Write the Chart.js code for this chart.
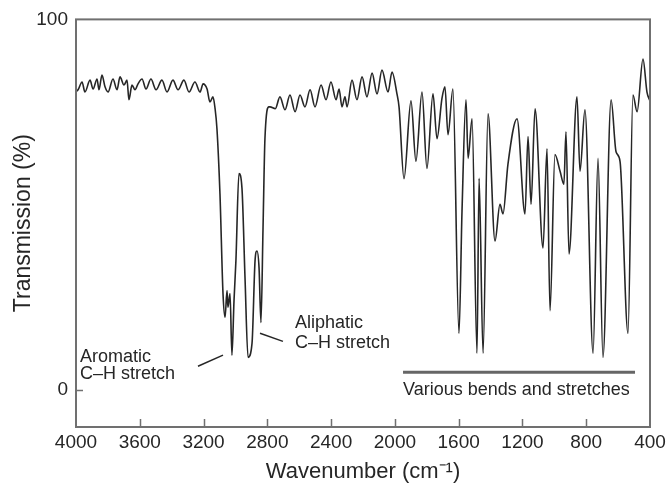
<!DOCTYPE html>
<html>
<head>
  <script src="https://cdn.jsdelivr.net/npm/chart.js"></script>
  <style>
    html, body { margin: 0; padding: 0; background: #fff; }
    canvas { display: block; }
  </style>
</head>
<body>
  <canvas id="irChart" width="671" height="493"></canvas>
  <script>
// spectrum (cm-1, % transmission)
const wavenumber = [
  4000, 3987, 3962, 3944, 3912, 3893, 3868, 3856, 3837, 3818, 3799, 3768, 3743, 3724, 3699, 3680,
  3668, 3649, 3630, 3611, 3586, 3561, 3530, 3498, 3461, 3429, 3392, 3360, 3323, 3291, 3254, 3222,
  3203, 3178, 3160, 3141, 3128, 3116, 3097, 3078, 3065, 3053, 3047, 3034, 3022, 3009, 2997, 2978,
  2959, 2940, 2921, 2896, 2877, 2865, 2852, 2840, 2827, 2815, 2790, 2783, 2750, 2721, 2689, 2658,
  2626, 2595, 2564, 2532, 2501, 2463, 2432, 2401, 2369, 2350, 2332, 2313, 2300, 2269, 2238, 2206,
  2175, 2143, 2112, 2081, 2043, 2018, 1987, 1974, 1943, 1899, 1868, 1830, 1799, 1761, 1736, 1705,
  1686, 1667, 1636, 1598, 1579, 1554, 1541, 1516, 1485, 1472, 1447, 1416, 1372, 1341, 1322, 1291,
  1234, 1184, 1165, 1146, 1121, 1071, 1046, 1027, 996, 964, 940, 927, 908, 858, 839, 808,
  757, 726, 695, 644, 613, 588, 538, 507, 481, 444, 419, 400
];
const transmission = [
  80.5, 81, 83.1, 80.4, 83.6, 81.2, 83.9, 81, 85, 81.8, 80.4, 83.9, 81, 84.5, 82.3, 83.6,
  78.3, 82.3, 81, 82.6, 83.9, 81.2, 83.9, 81, 83.6, 80.4, 83.6, 81, 83.6, 80.4, 83.1, 80.4,
  82.6, 81.2, 77.7, 79.1, 76, 70.5, 52.8, 26, 19.6, 26.8, 22.3, 26, 9.4, 24.1, 34.9, 58.4,
  54.4, 30.3, 8.8, 12.6, 34.9, 37.5, 33, 18.2, 43.7, 67.8, 76.4, 76.4, 75.9, 79.1, 75.6, 79.6,
  75.1, 79.6, 76.4, 81, 76.4, 82.3, 78.3, 83.1, 78.3, 81.2, 76.4, 79.1, 76.4, 83.6, 78.3, 84.5,
  79.1, 85.5, 79.9, 86.3, 80.4, 85.8, 79.9, 76.4, 57, 78, 61.7, 80.4, 59.8, 79.9, 67.8, 78.6,
  81.8, 68.9, 81.2, 15.3, 48.3, 78.3, 62.5, 73.2, 9.9, 57.1, 9.9, 74.5, 40.2, 50.1, 47.5, 60.9,
  73.2, 47.5, 68.4, 50.1, 75.9, 38.3, 65.1, 21.4, 63.5, 59, 55.5, 69.7, 36.7, 79.1, 59, 75.6,
  9.9, 62.5, 8.8, 78.3, 64.3, 61.7, 15.3, 79.6, 75.1, 89.3, 80.4, 78
];
const xTicks = [4000, 3600, 3200, 2800, 2400, 2000, 1600, 1200, 800, 400];
const yTicks = [0, 100];

const aromaticText = ['Aromatic', 'C\u2013H stretch'];
const aliphaticText = ['Aliphatic', 'C\u2013H stretch'];
const bandsText = 'Various bends and stretches';

const ink = '#262626';
const frameColor = '#707070';
const font = '"Liberation Sans", Arial, Helvetica, sans-serif';

// frame and inward tick marks
const framePlugin = {
  id: 'frame',
  afterDatasetsDraw(chart) {
    const {ctx, chartArea: a, scales: {x, y}} = chart;
    ctx.save();
    ctx.strokeStyle = frameColor;
    ctx.lineWidth = 2;
    ctx.strokeRect(a.left, a.top, a.right - a.left, a.bottom - a.top);
    ctx.lineWidth = 1.5;
    ctx.beginPath();
    xTicks.slice(1, -1).forEach(v => {
      const px = Math.round(x.getPixelForValue(v)) + 0.5;
      ctx.moveTo(px, a.bottom);
      ctx.lineTo(px, a.bottom - 8);
    });
    const y0 = Math.round(y.getPixelForValue(0)) + 0.5;
    ctx.moveTo(a.left, y0);
    ctx.lineTo(a.left + 7, y0);
    ctx.stroke();
    ctx.restore();
  }
};

// labels on the spectrum
const notesPlugin = {
  id: 'notes',
  afterDraw(chart) {
    const {ctx, scales: {x, y}} = chart;
    const line = (w1, t1, w2, t2, width) => {
      ctx.lineWidth = width;
      ctx.beginPath();
      ctx.moveTo(x.getPixelForValue(w1), y.getPixelForValue(t1));
      ctx.lineTo(x.getPixelForValue(w2), y.getPixelForValue(t2));
      ctx.stroke();
    };
    ctx.save();
    ctx.fillStyle = ink;
    ctx.strokeStyle = ink;
    ctx.font = '18px ' + font;
    ctx.textBaseline = 'middle';
    ctx.textAlign = 'left';

    ctx.fillText(aromaticText[0], x.getPixelForValue(3975), y.getPixelForValue(8.8));
    ctx.fillText(aromaticText[1], x.getPixelForValue(3975), y.getPixelForValue(4.3));
    line(3235, 6.4, 3078, 9.4, 1.5);

    ctx.fillText(aliphaticText[0], x.getPixelForValue(2626), y.getPixelForValue(18));
    ctx.fillText(aliphaticText[1], x.getPixelForValue(2626), y.getPixelForValue(12.6));
    line(2846, 15.3, 2702, 13.1, 1.5);

    ctx.strokeStyle = '#666';
    line(1949, 4.8, 494, 4.8, 3);
    ctx.fillText(bandsText, x.getPixelForValue(1949), y.getPixelForValue(0));
    ctx.restore();
  }
};

new Chart(document.getElementById('irChart'), {
  type: 'line',
  data: {
    datasets: [{
      data: wavenumber.map((w, i) => ({x: w, y: transmission[i]})),
      borderColor: ink,
      borderWidth: 1.6,
      pointRadius: 0,
      cubicInterpolationMode: 'monotone',
      fill: false
    }]
  },
  options: {
    responsive: false,
    animation: false,
    layout: { padding: { left: 0, top: 17, right: 21, bottom: 0 } },
    plugins: { legend: { display: false }, tooltip: { enabled: false } },
    scales: {
      x: {
        type: 'linear',
        min: 400,
        max: 4000,
        reverse: true,
        afterBuildTicks: s => { s.ticks = xTicks.map(v => ({value: v})); },
        afterFit: s => { s.height = 66; },
        grid: { display: false, drawTicks: false },
        border: { display: false },
        ticks: { autoSkip: false, maxRotation: 0, padding: 4, color: ink,
                 font: { family: font, size: 19 }, callback: v => String(v) },
        title: { display: true, text: 'Wavenumber (cm\u207B\u00B9)', color: ink,
                 font: { family: font, size: 22 }, padding: { top: 0, bottom: 8 } }
      },
      y: {
        min: -10,
        max: 100,
        afterBuildTicks: s => { s.ticks = yTicks.map(v => ({value: v})); },
        afterFit: s => { s.width = 76; },
        grid: { display: false, drawTicks: false },
        border: { display: false },
        ticks: { padding: 8, color: ink, font: { family: font, size: 19 }, callback: v => String(v) },
        title: { display: true, text: 'Transmission (%)', color: ink,
                 font: { family: font, size: 23 }, padding: { top: 10, bottom: 0 } }
      }
    }
  },
  plugins: [framePlugin, notesPlugin]
});
  </script>
</body>
</html>
